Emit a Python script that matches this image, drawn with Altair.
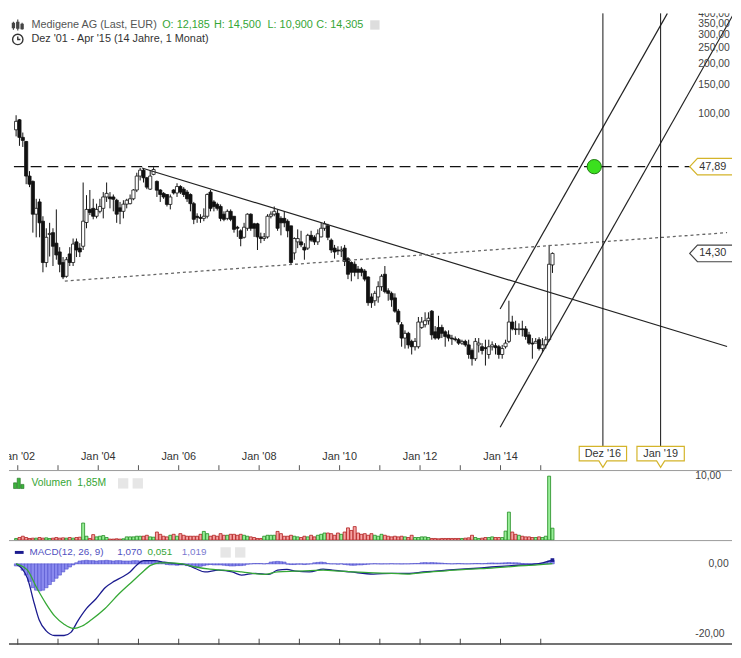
import altair as alt
import pandas as pd

FONT = "Liberation Sans, Arial, sans-serif"

# ---------------- monthly candles, Dec 2001 .. Apr 2015 ----------------
open_a = [80, 92, 72, 68, 42, 39, 24.7, 29.3, 22.4, 12.6, 18.6, 19.1, 16.5, 14.6, 12.6, 10.4, 14.2, 12.6, 16.8, 15.4,
          15.8, 22, 26.4, 26.8, 24, 25.7, 26.8, 31.4, 31.4, 31.4, 30, 27, 25.7, 28.4, 28.6, 30.6, 34.6, 42, 45.6, 41, 35]
high_a = [98, 93, 77, 68.5, 45, 39.5, 30.6, 30.6, 24, 20.3, 21.9, 20.3, 26.4, 15.6, 13.6, 13.6, 15.6, 17.6, 17.6, 16.5,
          38.4, 32.2, 34.6, 30.6, 28.6, 30.6, 33.6, 38.4, 33.6, 32.5, 30.6, 29.3, 30, 30.6, 32.5, 35, 44, 47, 47, 41.5, 45.6]
low_a = [73, 64, 63, 37.5, 36, 19.1, 17.9, 17.9, 11, 11.8, 13.7, 12, 13.1, 11, 10, 10.2, 12, 12, 13.6, 13.6,
         15, 20.3, 24.4, 23, 23.3, 25, 23.3, 29.3, 26.8, 25.7, 21.9, 21.5, 23.3, 26.8, 28.3, 30, 33.6, 39.5, 38.4, 35, 34.6]
close_a = [90, 72, 69, 42, 37.5, 24.7, 26.8, 21.9, 12.6, 17.9, 18.9, 15.8, 14, 12.3, 10.3, 13.1, 12.6, 16.3, 15, 14.6,
           22.4, 26.4, 25.3, 24, 26.4, 27.5, 31.4, 33, 30.6, 30.4, 24.7, 25.7, 28.4, 30, 30.6, 34.6, 42, 45.6, 41, 36, 42]

open_b = [43, 39, 34.6, 33, 32.5, 28.3, 34.6, 33.2, 36.3, 35, 33.6, 32.5, 28.6, 24, 23.6, 23.3, 24, 33.6, 29.3, 28.3,
          27.5, 24.7, 23.3, 25.7, 24, 20.6, 19.6, 17.9, 20.3, 24.7, 21.6, 21.6, 18, 17.6, 18, 24, 24.7, 25, 23.3, 23.3]
high_b = [47.5, 39.5, 35, 33.6, 32.5, 32.5, 35, 38, 37, 36, 34.6, 33, 29.3, 25, 24.7, 26.8, 33, 34.6, 30, 29,
          28.3, 25.7, 26.4, 26.4, 24, 21, 20, 21.9, 25, 25, 21.9, 21.9, 19.1, 19, 24.7, 25.7, 27.5, 26.4, 24, 25.7]
low_b = [42.5, 31.4, 29.3, 30.6, 27.5, 26.4, 32.5, 31.4, 32.7, 31.4, 29.3, 25.7, 21.5, 21.9, 21.9, 22.4, 23.3, 25.7, 25.7, 26,
         22.4, 22.4, 22.7, 22.4, 19.1, 18, 15.8, 17.6, 19.6, 19.6, 18, 15, 16.5, 17, 17.6, 23.3, 24, 19.6, 18.4, 20.6]
close_b = [46, 34.5, 32.5, 31.4, 28.3, 31.4, 33.2, 36.3, 33.6, 32.5, 30.6, 28.6, 23, 23.6, 23.3, 24, 32.5, 26.8, 27.5, 26.8,
           23.3, 23, 25.7, 23, 20, 20.3, 17.6, 20.6, 24.7, 20.3, 20.3, 18, 17.6, 18, 24, 24.7, 25.7, 20.3, 21.9, 21.9]

open_c = [22.4, 21, 14.4, 16.8, 16.8, 15.6, 15.4, 18.4, 17.9, 16.8, 18, 20.3, 21, 17.2, 15.4, 15, 14.8, 15.4, 13.3, 12.6,
          12.3, 11.5, 11.5, 11.2, 10.3, 7.8, 7.4, 7.8, 9, 10.7, 8.5, 8.2, 7.7, 6.4, 5.3, 4.4, 4.7, 4.2, 3.9, 3.9]
high_c = [23, 21, 17.9, 20, 19.6, 16.5, 18.8, 19.6, 18.4, 20, 21.9, 22.4, 21.6, 17.6, 16.1, 15.8, 15.8, 16.1, 13.6, 12.8,
          12.8, 12, 11.8, 11.5, 10.4, 8.2, 8.5, 9.7, 10.7, 12, 8.8, 8.4, 8.2, 6.6, 5.5, 4.9, 4.8, 4.3, 4.4, 5.9]
low_c = [17.9, 12.3, 13.1, 15.4, 15.6, 13.1, 15, 16.8, 16.1, 16.1, 17.9, 19.6, 17.2, 14.4, 13.3, 14, 13.6, 12, 10, 9.7,
         10.4, 10, 10.4, 9.7, 6.9, 6.7, 6.9, 7.2, 8.5, 8.2, 7.4, 6.8, 6.26, 5.3, 3.9, 3.8, 3.8, 3.5, 3.7, 3.8]
close_c = [19.6, 12.6, 17.6, 17.6, 16.1, 15, 18.4, 17.2, 16.8, 18.8, 20.3, 21.6, 17.9, 15, 14.6, 14.8, 15, 12.8, 10.7, 11,
           11, 11, 11, 10, 7.2, 7.2, 8.2, 9, 10.4, 8.4, 8.2, 7.5, 6.4, 5.5, 4.4, 4.7, 4.0, 3.9, 4.2, 5.5]

open_d = [5.1, 5.3, 5.6, 6.4, 4.8, 5.1, 5.1, 4.8, 4.6, 4.4, 4.35, 4.3, 4.1, 4.2, 4.0, 3.7, 3.3, 4.0, 3.9, 3.85,
          3.5, 3.9, 3.95, 3.9, 3.5, 3.9, 4.2, 5.5, 5.0, 4.95, 5.0, 5.0, 4.6, 4.1, 4.1, 4.3, 3.8, 4.0, 4.3, 12.185]
high_d = [5.9, 6.3, 6.3, 6.5, 5.2, 6.0, 5.3, 4.9, 4.9, 4.6, 4.5, 4.4, 4.3, 4.3, 4.3, 3.8, 4.4, 4.4, 4.1, 4.3,
          4.3, 4.2, 4.1, 4.0, 4.0, 4.3, 7.4, 6.0, 5.6, 5.4, 5.6, 5.2, 4.8, 4.4, 4.4, 4.45, 4.4, 4.5, 16.1, 14.5]
low_d = [5.0, 5.1, 5.3, 4.3, 4.3, 4.3, 4.4, 3.9, 4.2, 4.0, 4.2, 4.0, 4.0, 3.9, 3.3, 3.0, 3.2, 3.6, 3.5, 3.0,
         3.3, 3.7, 3.5, 3.3, 3.3, 3.8, 4.1, 4.9, 4.6, 4.6, 4.5, 4.3, 4.0, 3.3, 4.1, 3.7, 3.6, 3.8, 4.2, 10.9]
close_d = [5.5, 5.6, 5.8, 4.6, 4.4, 4.4, 4.7, 4.5, 4.4, 4.35, 4.3, 4.1, 4.2, 4.0, 3.5, 3.3, 4.2, 4.1, 3.7, 3.8,
           3.9, 4.0, 3.85, 3.5, 3.8, 4.1, 5.5, 5.0, 4.95, 5.0, 4.95, 4.5, 4.1, 4.05, 4.2, 3.8, 4.0, 4.3, 12.3, 14.305]

opens = open_a + open_b + open_c + open_d
highs = high_a + high_b + high_c + high_d
lows = low_a + low_b + low_c + low_d
closes = close_a + close_b + close_c + close_d

# monthly volume, millions
volumes = [0.25, 0.4, 0.6, 0.4, 0.25, 0.3, 0.3, 0.4, 0.3, 0.35,
           0.25, 0.3, 0.4, 0.3, 0.35, 0.3, 0.4, 0.3, 0.4, 0.45,
           2.65, 0.6, 0.25, 0.85, 0.5, 0.6, 0.7, 0.4, 0.15, 0.15,
           0.2, 0.15, 0.2, 0.5, 0.5, 0.5, 0.6, 0.6, 0.6, 0.75,
           0.5, 0.45, 1.25, 0.9, 0.6, 0.5, 0.75, 0.9, 0.6, 1.0,
           0.75, 0.6, 0.6, 0.6, 0.6, 0.9, 1.35, 1.0, 0.6, 0.75,
           0.6, 1.0, 0.75, 0.75, 0.9, 0.9, 0.75, 0.9, 0.75, 0.6,
           0.5, 0.4, 0.25, 0.25, 0.6, 0.75, 0.75, 0.75, 1.35, 1.0,
           0.6, 0.6, 0.75, 0.6, 0.5, 0.4, 0.6, 0.5, 0.75, 0.5,
           0.75, 0.9, 1.1, 1.1, 1.0, 0.75, 1.1, 0.9, 1.25, 1.9,
           1.5, 2.1, 1.1, 0.9, 1.0, 0.75, 1.0, 0.75, 0.6, 0.9,
           0.75, 0.6, 0.5, 0.6, 0.5, 0.6, 0.5, 0.4, 0.75, 0.4,
           0.4, 0.5, 0.5, 0.4, 0.25, 0.25, 0.2, 0.25, 0.25, 0.25,
           0.25, 0.25, 0.25, 0.25, 0.3, 0.35, 0.75, 0.4, 0.25, 0.3,
           0.4, 0.4, 0.5, 0.4, 0.4, 0.4, 1.4, 4.35, 1.25, 0.9,
           0.75, 0.6, 0.5, 0.5, 0.4, 0.4, 0.5, 0.4, 0.6, 9.95, 1.85]

# MACD histogram per month
macd_hist = [-0.6, -0.6, -1.8, -3.2, -5.0, -6.8, -7.5, -7.7, -7.5, -6.8,
             -5.9, -5.0, -4.1, -3.2, -2.3, -1.5, -0.9, -0.3, 0.3, 0.8,
             0.9, 1.0, 0.9, 0.9, 0.8, 0.9, 0.9, 1.0, 0.9, 0.8,
             0.9, 0.9, 0.8, 0.8, 0.8, 0.9, 0.9, 0.8, 0.7, 0.8,
             0.9, 0.8, 0.6, 0.5, 0.3, -0.2, -0.3, -0.3, -0.4, -0.3,
             -0.3, -0.5, -0.7, -0.9, -0.9, -0.7, -0.5, -0.3, -0.2, -0.3,
             -0.3, -0.3, -0.4, -0.5, -0.6, -0.6, -0.5, -0.5, -0.4, -0.1,
             0.0, 0.1, 0.1, 0.1, 0.0, 0.1, 0.5, 0.6, 0.7, 0.6,
             0.5, -0.1, -0.2, -0.2, -0.1, -0.1, -0.2, -0.1, 0.0, 0.3,
             0.4, 0.5, 0.4, 0.1, 0.0, 0.0, -0.1, 0.0, -0.2, -0.3,
             -0.4, -0.4, -0.3, -0.3, -0.2, -0.1, 0.0, 0.05, 0.0, -0.05,
             0.0, 0.0, 0.05, 0.0, 0.0, -0.05, 0.0, 0.0, 0.05, 0.1,
             0.1, 0.3, 0.35, 0.3, 0.35, 0.3, 0.25, 0.2, 0.1, 0.05,
             0.0, 0.05, 0.1, 0.05, 0.0, 0.0, 0.05, 0.1, 0.1, 0.05,
             0.1, 0.2, 0.25, 0.2, 0.2, 0.25, 0.3, 0.35, 0.3, 0.3,
             0.25, 0.1, 0.05, 0.05, 0.0, 0.05, 0.05, 0.1, 0.3, 0.8, 1.02]

# MACD line and signal line (read at points along the curves)
macd_t = [2001.96, 2002.24, 2002.41, 2002.53, 2002.70, 2002.92, 2003.15, 2003.32, 2003.49, 2003.71, 2003.94,
          2004.17, 2004.39, 2004.62, 2004.79, 2004.96, 2005.13, 2005.41, 2005.64, 2005.97, 2006.20, 2006.43,
          2006.65, 2006.99, 2007.33, 2007.56, 2007.90, 2008.24, 2008.46, 2008.69, 2008.91, 2009.25, 2009.59,
          2009.82, 2010.27, 2010.84, 2011.29, 2011.74, 2012.08, 2012.65, 2013.21, 2013.78, 2014.34, 2014.91, 2015.29]
macd_v = [0, -4.1, -11.3, -15.9, -19.0, -20.4, -20.4, -19.5, -16.3, -12.7, -10.0,
          -6.8, -5.0, -3.6, -2.3, -0.3, 0.9, 0.9, 0.45, 0, -0.3, -1.4,
          -2.3, -1.8, -2.3, -3.2, -2.7, -3.0, -1.8, -1.6, -2.1, -2.3, -1.5,
          -1.8, -2.3, -2.9, -2.7, -2.7, -2.3, -1.8, -1.4, -0.9, -0.45, 0, 1.07]
sig_t = [2001.96, 2002.24, 2002.47, 2002.70, 2002.92, 2003.15, 2003.38, 2003.60, 2003.83, 2004.17,
         2004.51, 2004.85, 2005.07, 2005.30, 2005.53, 2005.75, 2006.09, 2006.43, 2006.77, 2007.11,
         2007.56, 2008.13, 2008.46, 2008.91, 2009.59, 2010.04, 2010.72, 2011.29, 2011.74, 2012.08,
         2012.65, 2013.21, 2013.78, 2014.34, 2014.91, 2015.29]
sig_v = [0, -1.8, -6.8, -11.3, -14.9, -17.2, -18.4, -17.7, -15.9, -12.7,
         -8.6, -5.0, -2.7, -0.45, 0.3, 0.3, 0, -0.9, -1.5, -1.8,
         -2.3, -3.0, -2.3, -2.1, -1.8, -2.1, -2.5, -2.7, -2.9, -2.5,
         -2.0, -1.5, -1.2, -0.7, -0.3, 0.05]

# drawn trend lines (start / end points: time, price)
trend_names = ["down", "down", "dotted", "dotted", "upper", "upper", "lower", "lower"]
trend_t = [2005.086, 2019.632, 2003.17, 2019.632, 2013.99, 2018.148, 2013.99, 2019.80]
trend_p = [47.0, 3.91, 9.73, 19.1, 6.6, 405, 1.27, 405]

level_price = [47.89]
last_price = [14.30]
marker_t = [2016.545, 2017.98]
marker_labels = ["Dez '16", "Jan '19"]
signal_point_t = [2016.33]

axis_prices = [400, 350, 300, 250, 200, 150, 100]
axis_price_labels = ["400,00", "350,00", "300,00", "250,00", "200,00", "150,00", "100,00"]
tick_years = list(range(2002, 2016))
label_years = [2002, 2004, 2006, 2008, 2010, 2012, 2014]
label_year_text = ["Jan '02", "Jan '04", "Jan '06", "Jan '08", "Jan '10", "Jan '12", "Jan '14"]

# ---------------- frames ----------------
n = len(closes)
month_t = [2001 + 11.5 / 12 + i / 12 for i in range(n)]
candles = pd.DataFrame({"t": month_t, "o": opens, "h": highs, "l": lows, "c": closes})
up_flags = [c >= o for o, c in zip(opens, closes)]
vol_df = pd.DataFrame({"t": month_t[:len(volumes)], "v": volumes, "up": up_flags[:len(volumes)]})
hist_df = pd.DataFrame({"t": month_t[:len(macd_hist)], "h": macd_hist})
macd_df = pd.DataFrame({"t": macd_t, "v": macd_v})
sig_df = pd.DataFrame({"t": sig_t, "v": sig_v})
trend_df = pd.DataFrame({"name": trend_names, "t": trend_t, "p": trend_p})

W = 733
H_MAIN, H_VOL, H_MACD = 463, 71, 106

xs = alt.Scale(domain=[2001.904, 2019.632], nice=False, zero=False)
ys = alt.Scale(type="log", domain=[0.70, 405], nice=False)
X = alt.X("t:Q", scale=xs, axis=None)


def PY(field):
    return alt.Y(field, type="quantitative", scale=ys, axis=None)


one = pd.DataFrame({"a": [0]})


def txt(s, x, y, color="#333333", size=11, align="left", weight="normal"):
    return alt.Chart(one).mark_text(text=s, align=align, baseline="middle", font=FONT,
                                    fontSize=size, color=color, fontWeight=weight).encode(
        x=alt.value(x), y=alt.value(y))


sx = W / 741.0
sy = H_MAIN / 472.0

# ---------------- main price panel ----------------
wicks = alt.Chart(candles).mark_rule(color="#111111", strokeWidth=1).encode(x=X, y=PY("l"), y2="h:Q")
bodies = alt.Chart(candles).mark_bar(size=3.2, stroke="#111111", strokeWidth=0.8).encode(
    x=X, y=PY("o"), y2="c:Q",
    fill=alt.condition("datum.c >= datum.o", alt.value("#ffffff"), alt.value("#111111")))


def trend(name, **kw):
    return alt.Chart(trend_df).transform_filter(alt.datum.name == name).mark_line(clip=True, **kw).encode(
        x=X, y=PY("p"), order="t:Q")


down_line = trend("down", color="#222222", strokeWidth=1.2)
dotted_line = trend("dotted", color="#666666", strokeWidth=1.3, strokeDash=[3, 3])
upper_line = trend("upper", color="#222222", strokeWidth=1.2)
lower_line = trend("lower", color="#222222", strokeWidth=1.2)

level_df = pd.DataFrame({"t1": [2001.904], "t2": [2018.72], "p": level_price})
level_rule = alt.Chart(level_df).mark_rule(color="#111111", strokeWidth=1.2, strokeDash=[11, 6]).encode(
    x=alt.X("t1:Q", scale=xs, axis=None), x2="t2:Q", y=PY("p"))

mk_df = pd.DataFrame({"t": marker_t, "top": [405, 405], "bot": [0.975, 0.975], "tp": [0.88, 0.88],
                      "label": marker_labels})
marker_rules = alt.Chart(mk_df).mark_rule(color="#111111", strokeWidth=1).encode(x=X, y=PY("top"), y2="bot:Q")
tag_path = "M -1 -0.31 L 1 -0.31 L 1 0.31 L 0.17 0.31 L 0 0.58 L -0.17 0.31 L -1 0.31 Z"
marker_tags = alt.Chart(mk_df).mark_point(shape=tag_path, size=2304, filled=True, fill="#ffffff",
                                          stroke="#d4b42a", strokeWidth=1.2, opacity=1).encode(x=X, y=PY("tp"))
marker_text = alt.Chart(mk_df).mark_text(font=FONT, fontSize=11, color="#333333", baseline="middle").encode(
    x=X, y=PY("tp"), text="label:N")

circle_df = pd.DataFrame({"t": signal_point_t, "p": level_price})
circle = alt.Chart(circle_df).mark_point(shape="circle", size=210, filled=True, fill="#3be01e",
                                         stroke="#1f7a12", strokeWidth=1, opacity=1).encode(x=X, y=PY("p"))

overlay_df = pd.DataFrame({"t1": [2018.72], "t2": [2019.632], "p1": [0.70], "p2": [405]})
overlay = alt.Chart(overlay_df).mark_rect(fill="#ffffff", opacity=0.72).encode(
    x=alt.X("t1:Q", scale=xs, axis=None), x2="t2:Q", y=PY("p1"), y2="p2:Q")

ptag_df = pd.DataFrame({"t": [2019.39, 2019.39], "tt": [2018.94, 2018.94], "p": level_price + last_price,
                        "label": ["47,89", "14,30"], "col": ["#d4b42a", "#444444"]})
ptag_path = "M -1 0 L -0.72 -0.3 L 1 -0.3 L 1 0.3 L -0.72 0.3 Z"
ptags = alt.Chart(ptag_df).mark_point(shape=ptag_path, size=3136, filled=True, fill="#ffffff",
                                      strokeWidth=1.2, opacity=1, clip=True).encode(
    x=X, y=PY("p"), stroke=alt.Stroke("col:N", scale=None))
ptag_text = alt.Chart(ptag_df).mark_text(font=FONT, fontSize=11, color="#333333", align="left",
                                         baseline="middle", clip=True).encode(
    x=alt.X("tt:Q", scale=xs, axis=None), y=PY("p"), text="label:N")

ax_df = pd.DataFrame({"p": axis_prices, "label": axis_price_labels, "t": [2018.914] * len(axis_prices)})
ax_text = alt.Chart(ax_df).mark_text(font=FONT, fontSize=10.5, color="#444444", align="left",
                                     baseline="middle", clip=True).encode(x=X, y=PY("p"), text="label:N")

yt_df = pd.DataFrame({"t": tick_years})
year_ticks = alt.Chart(yt_df).mark_rule(color="#555555", strokeWidth=1).encode(
    x=X, y=alt.value(467 * sy), y2=alt.value(H_MAIN))
yl_df = pd.DataFrame({"t": label_years, "label": label_year_text})
year_labels = alt.Chart(yl_df).mark_text(font=FONT, fontSize=11, color="#333333", baseline="middle",
                                         clip=True).encode(x=X, y=alt.value(459 * sy), text="label:N")

icon_candles = alt.Chart(one).mark_point(
    shape="M -0.8 -0.6 L -0.8 0.9 M -1 -0.3 L -0.6 -0.3 L -0.6 0.5 L -1 0.5 Z M 0 -1 L 0 1 M -0.2 -0.5 L 0.2 -0.5 L 0.2 0.6 L -0.2 0.6 Z M 0.8 -0.4 L 0.8 0.9 M 0.6 -0.1 L 1 -0.1 L 1 0.7 L 0.6 0.7 Z",
    size=121, filled=False, stroke="#444444", strokeWidth=1.2, opacity=1).encode(
    x=alt.value(9 * sx), y=alt.value(12 * sy))
icon_clock = alt.Chart(one).mark_point(shape="M 0 -1 A 1 1 0 1 1 0 1 A 1 1 0 1 1 0 -1 M 0 -0.6 L 0 0 L 0.5 0",
                                       size=110, filled=False, stroke="#333333", strokeWidth=1.4,
                                       opacity=1).encode(x=alt.value(9 * sx), y=alt.value(27 * sy))
icon_box = alt.Chart(one).mark_point(shape="square", size=90, filled=True, color="#dddddd", opacity=1).encode(
    x=alt.value(375 * sx), y=alt.value(12 * sy))

GREEN_TXT = "#35a535"
header = [
    txt("Medigene AG (Last, EUR)", 23 * sx, 12 * sy, "#555555"),
    txt("O: 12,185", 157 * sx, 12 * sy, GREEN_TXT),
    txt("H: 14,500", 210 * sx, 12 * sy, GREEN_TXT),
    txt("L: 10,900", 265 * sx, 12 * sy, GREEN_TXT),
    txt("C: 14,305", 315 * sx, 12 * sy, GREEN_TXT),
    txt("Dez '01 - Apr '15 (14 Jahre, 1 Monat)", 23 * sx, 27 * sy, "#333333"),
]

main = alt.layer(
    overlay, wicks, bodies, down_line, dotted_line, upper_line, lower_line, level_rule,
    marker_rules, circle, ptags, ptag_text, ax_text, marker_tags, marker_text,
    year_ticks, year_labels, icon_candles, icon_clock, icon_box, *header
).properties(width=W, height=H_MAIN)

# ---------------- volume panel ----------------
vs = alt.Scale(domain=[0, 10.9], nice=False)
vol_bars = alt.Chart(vol_df).mark_bar(size=3, strokeWidth=0.8).encode(
    x=X, y=alt.Y("v:Q", scale=vs, axis=None),
    fill=alt.condition("datum.up", alt.value("#98ee98"), alt.value("#f5a3a3")),
    stroke=alt.condition("datum.up", alt.value("#1e8c1e"), alt.value("#b01c1c")))
vol_top = alt.Chart(one).mark_rule(color="#999999", strokeWidth=1).encode(
    x=alt.value(0), x2=alt.value(W), y=alt.value(0.5))
vol_axis = alt.Chart(pd.DataFrame({"v": [10], "label": ["10,00"], "t": [2018.84]})).mark_text(
    font=FONT, fontSize=10.5, color="#444444", align="left", baseline="middle", clip=True).encode(
    x=X, y=alt.Y("v:Q", scale=vs, axis=None), text="label:N")
vol_icon = alt.Chart(one).mark_point(
    shape="M -1 1 L -1 -0.1 L -0.4 -0.1 L -0.4 1 Z M -0.3 1 L -0.3 -1 L 0.3 -1 L 0.3 1 Z M 0.4 1 L 0.4 0.2 L 1 0.2 L 1 1 Z",
    size=110, filled=True, fill="#3cb43c", stroke="#1e6e1e", strokeWidth=0.6, opacity=1).encode(
    x=alt.value(10 * sx), y=alt.value(13.5))
vol_boxes = alt.Chart(pd.DataFrame({"x": [117 * sx, 132 * sx]})).mark_point(
    shape="square", size=110, filled=True, color="#e6e6e6", opacity=1).encode(
    x=alt.X("x:Q", scale=None), y=alt.value(13.5))
vol = alt.layer(
    vol_bars, vol_top, vol_axis, vol_icon, vol_boxes,
    txt("Volumen", 23 * sx, 13.5, GREEN_TXT, size=10.5),
    txt("1,85M", 70 * sx, 13.5, GREEN_TXT, size=10.5),
).properties(width=W, height=H_VOL)

# ---------------- MACD panel ----------------
ms = alt.Scale(domain=[-23.0, 6.76], nice=False, zero=False)
hist_bars = alt.Chart(hist_df).mark_bar(size=3.6, fill="#8a8aee", stroke="#4f4fcc", strokeWidth=0.6).encode(
    x=X, y=alt.Y("h:Q", scale=ms, axis=None), y2=alt.datum(0))
macd_line = alt.Chart(macd_df).mark_line(color="#1b1b8f", strokeWidth=1.3, interpolate="monotone").encode(
    x=X, y=alt.Y("v:Q", scale=ms, axis=None))
sig_line = alt.Chart(sig_df).mark_line(color="#35a835", strokeWidth=1.3, interpolate="monotone").encode(
    x=X, y=alt.Y("v:Q", scale=ms, axis=None))
macd_end = alt.Chart(macd_df.tail(1)).mark_point(shape="square", size=14, filled=True, color="#1b1b8f",
                                                 opacity=1).encode(x=X, y=alt.Y("v:Q", scale=ms, axis=None))
macd_top = alt.Chart(one).mark_rule(color="#999999", strokeWidth=1).encode(
    x=alt.value(0), x2=alt.value(W), y=alt.value(0.5))
macd_bottom = alt.Chart(one).mark_rule(color="#444444", strokeWidth=1.5).encode(
    x=alt.value(0), x2=alt.value(W), y=alt.value(H_MACD - 0.75))
macd_ticks = alt.Chart(yt_df).mark_rule(color="#444444", strokeWidth=1).encode(
    x=X, y=alt.value(H_MACD - 6), y2=alt.value(H_MACD))
macd_axis = alt.Chart(pd.DataFrame({"v": [0, -20], "label": ["0,00", "-20,00"], "t": [2019.17, 2018.84]})).mark_text(
    font=FONT, fontSize=10.5, color="#444444", align="left", baseline="middle", clip=True).encode(
    x=X, y=alt.Y("v:Q", scale=ms, axis=None), text="label:N")
macd_icon = alt.Chart(one).mark_rule(color="#1b1b8f", strokeWidth=3).encode(
    x=alt.value(6 * sx), x2=alt.value(15 * sx), y=alt.value(12.5))
macd_boxes = alt.Chart(pd.DataFrame({"x": [222 * sx, 237 * sx]})).mark_point(
    shape="square", size=110, filled=True, color="#e6e6e6", opacity=1).encode(
    x=alt.X("x:Q", scale=None), y=alt.value(12.5))
macd = alt.layer(
    hist_bars, macd_line, sig_line, macd_end, macd_top, macd_bottom, macd_ticks, macd_axis, macd_icon, macd_boxes,
    txt("MACD(12, 26, 9)", 21 * sx, 12.5, "#5050c0", size=10),
    txt("1,070", 111 * sx, 12.5, "#5050c0", size=10),
    txt("0,051", 142 * sx, 12.5, GREEN_TXT, size=10),
    txt("1,019", 177 * sx, 12.5, "#7a7ad0", size=10),
).properties(width=W, height=H_MACD)

chart = alt.vconcat(main, vol, macd, spacing=0, bounds="flush").properties(
    padding=0, background="#ffffff").configure_view(stroke=None)

chart.save("out.html", embed_options={"renderer": "svg", "actions": False})
